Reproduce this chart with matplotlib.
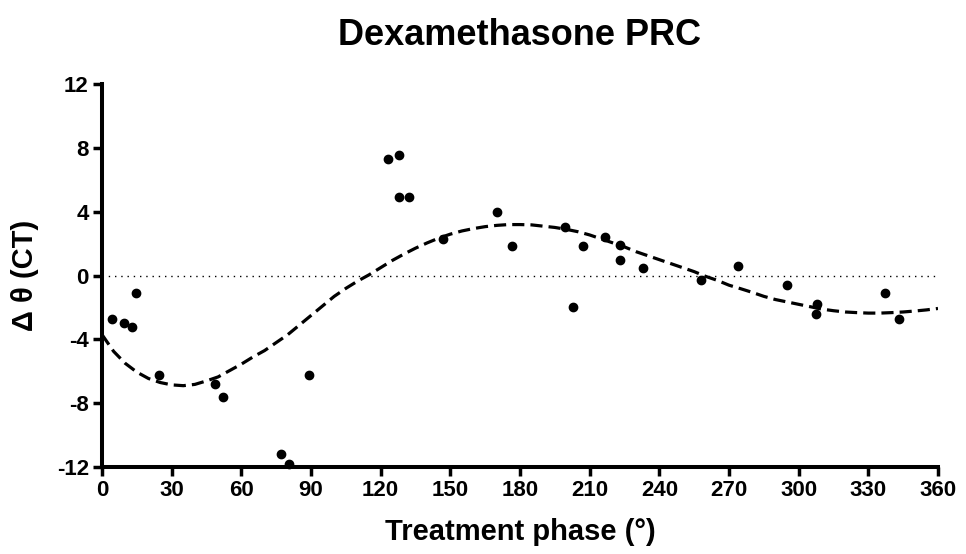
import matplotlib
matplotlib.use("Agg")
import matplotlib.pyplot as plt

# Data points (treatment phase in degrees, phase shift in CT)
phase = [4.3, 9.5, 12.9, 14.7, 24.6, 48.7, 52.2, 77.2, 80.6, 89.3,
         123.3, 128.1, 128.1, 132.0, 147.0, 170.0, 176.4, 199.2, 203.0,
         207.0, 216.5, 223.0, 223.0, 233.0, 258.0, 274.0, 295.0, 307.5,
         308.0, 337.0, 343.0]
shift = [-2.75, -3.0, -3.2, -1.1, -6.25, -6.8, -7.6, -11.2, -11.8, -6.25,
         7.3, 7.55, 4.95, 4.95, 2.3, 4.0, 1.85, 3.06, -1.95,
         1.85, 2.4, 1.9, 1.0, 0.5, -0.25, 0.6, -0.56, -2.4,
         -1.75, -1.1, -2.7]

# Fitted curve
curve_x = [0, 5, 10, 15, 20, 25, 30, 35, 40, 45, 50, 55, 60, 65, 70, 75, 80,
           85, 90, 95, 100, 105, 110, 115, 120, 125, 130, 135, 140, 145, 150,
           155, 160, 165, 170, 175, 180, 185, 190, 195, 200, 205, 210, 215,
           220, 225, 230, 235, 240, 245, 250, 255, 260, 265, 270, 275, 280,
           285, 290, 295, 300, 305, 310, 315, 320, 325, 330, 335, 340, 345,
           350, 355, 360]
curve_y = [-3.7, -4.75, -5.5, -6.05, -6.45, -6.7, -6.85, -6.9, -6.82, -6.6,
           -6.35, -5.95, -5.55, -5.1, -4.7, -4.2, -3.7, -3.1, -2.5, -1.9,
           -1.3, -0.8, -0.35, 0.05, 0.5, 0.95, 1.35, 1.72, 2.05, 2.35, 2.6,
           2.8, 2.95, 3.07, 3.15, 3.2, 3.2, 3.18, 3.1, 3.02, 2.9, 2.75, 2.55,
           2.3, 2.05, 1.8, 1.5, 1.25, 1.0, 0.75, 0.5, 0.25, -0.05, -0.3,
           -0.6, -0.82, -1.05, -1.3, -1.5, -1.65, -1.8, -1.95, -2.1, -2.2,
           -2.28, -2.32, -2.35, -2.35, -2.32, -2.28, -2.22, -2.15, -2.06]

x_ticks = [0, 30, 60, 90, 120, 150, 180, 210, 240, 270, 300, 330, 360]
y_ticks = [-12, -8, -4, 0, 4, 8, 12]

plt.rcParams['font.family'] = ['Liberation Sans', 'DejaVu Sans']
plt.rcParams['font.weight'] = 'bold'

fig = plt.figure(figsize=(9.66, 5.54), dpi=100)
ax = fig.add_axes([0.1056, 0.157, 0.8654, 0.691])

ax.axhline(0, color='black', lw=1.0, ls=(0, (1, 3.5)), zorder=1)
ax.plot(curve_x, curve_y, color='black', lw=2.3, ls=(0, (3.8, 1.9)), zorder=2)
ax.plot(phase, shift, 'o', color='black', ms=6, zorder=3, clip_on=False)

ax.set_xlim(0, 360)
ax.set_ylim(-12, 12)
ax.set_xticks(x_ticks)
ax.set_yticks(y_ticks)
ax.set_xticklabels([str(t) for t in x_ticks], fontsize=16, fontweight='bold')
ax.set_yticklabels([str(t) for t in y_ticks], fontsize=16, fontweight='bold')

for s in ['top', 'right']:
    ax.spines[s].set_visible(False)
for s in ['left', 'bottom']:
    ax.spines[s].set_linewidth(2.9)
ax.tick_params(axis='both', direction='out', length=6.5, width=2.5, pad=3)

ax.set_title('Dexamethasone PRC', fontsize=26, fontweight='bold', pad=28)
ax.set_xlabel('Treatment phase (°)', fontsize=21, fontweight='bold', labelpad=12)
ax.set_ylabel('Δ θ (CT)', fontsize=21, fontweight='bold', labelpad=13)

fig.savefig('out.png', dpi=100)
